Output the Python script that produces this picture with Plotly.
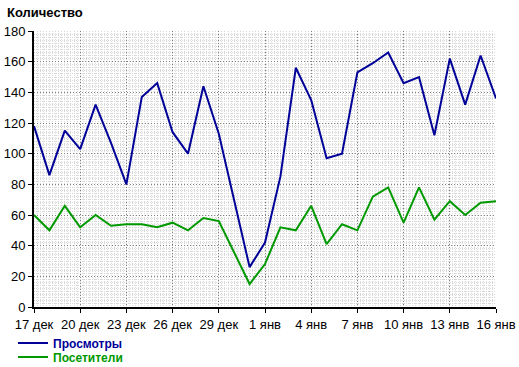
import plotly.graph_objects as go

day_labels = ["17 дек", "18 дек", "19 дек", "20 дек", "21 дек", "22 дек", "23 дек", "24 дек",
              "25 дек", "26 дек", "27 дек", "28 дек", "29 дек", "30 дек", "31 дек", "1 янв",
              "2 янв", "3 янв", "4 янв", "5 янв", "6 янв", "7 янв", "8 янв", "9 янв",
              "10 янв", "11 янв", "12 янв", "13 янв", "14 янв", "15 янв", "16 янв"]

views = [118, 86, 115, 103, 132, 107, 80, 137, 146, 114,
         100, 144, 113, 69, 26, 42, 85, 156, 135, 97,
         100, 153, 159, 166, 146, 150, 112, 162, 132, 164, 136]

visitors = [60, 50, 66, 52, 60, 53, 54, 54, 52, 55,
            50, 58, 56, 35, 15, 28, 52, 50, 66, 41,
            54, 50, 72, 78, 55, 78, 57, 69, 60, 68, 69]

y_title = "Количество"
series_names = ["Просмотры", "Посетители"]
colors = ["#000099", "#009900"]

x = list(range(len(day_labels)))
tick_idx = x[::3]

FONT = "Liberation Sans, Arial, sans-serif"
W, H = 519, 367

fig = go.Figure()
fig.add_trace(go.Scatter(
    x=x, y=views, mode="lines",
    line=dict(color=colors[0], width=2),
    name=f"<b><span style='color:{colors[0]}'>{series_names[0]}</span></b>",
    legend="legend"))
fig.add_trace(go.Scatter(
    x=x, y=visitors, mode="lines",
    line=dict(color=colors[1], width=2),
    name=f"<b><span style='color:{colors[1]}'>{series_names[1]}</span></b>",
    legend="legend2"))

leg_common = dict(xref="container", yref="container", xanchor="left", yanchor="middle",
                  font=dict(size=12), bgcolor="rgba(0,0,0,0)", borderwidth=0,
                  itemwidth=30, tracegroupgap=0)

fig.update_layout(
    width=W, height=H,
    margin=dict(l=34, r=23, t=31, b=60, autoexpand=False),
    paper_bgcolor="white", plot_bgcolor="white",
    font=dict(family=FONT, size=13, color="black"),
    showlegend=True,
    legend=dict(x=13 / W, y=1 - 343 / H, **leg_common),
    legend2=dict(x=13 / W, y=1 - 357 / H, **leg_common),
    annotations=[dict(text=f"<b>{y_title}</b>", xref="paper", yref="paper",
                      x=(5 - 34) / 462, xanchor="left",
                      y=1 + (31 - 13) / 276, yanchor="middle",
                      showarrow=False, font=dict(size=13, family=FONT))],
)

fig.update_xaxes(
    range=[0, 30], tickvals=tick_idx, ticktext=[day_labels[i] for i in tick_idx],
    showline=True, linecolor="black", linewidth=2, mirror=False,
    ticks="outside", ticklen=4, tickcolor="black", tickwidth=1,
    showgrid=True, gridcolor="#808080", gridwidth=1, griddash="1px,2px",
    minor=dict(dtick=0.2, showgrid=True, gridcolor="#d8d8d8", gridwidth=1, griddash="1px,1px"),
    zeroline=False, fixedrange=True)
fig.update_yaxes(
    range=[0, 180], dtick=20, tick0=0,
    showline=True, linecolor="black", linewidth=2,
    ticks="outside", ticklen=4, tickcolor="black", tickwidth=1,
    showgrid=True, gridcolor="#808080", gridwidth=1, griddash="1px,2px",
    minor=dict(dtick=2, showgrid=True, gridcolor="#d8d8d8", gridwidth=1, griddash="1px,1px"),
    zeroline=False, fixedrange=True)

fig.write_html("out.html",
               config={"displayModeBar": False, "staticPlot": True},
               post_script="document.body.style.margin='0px';document.body.style.padding='0px';")
